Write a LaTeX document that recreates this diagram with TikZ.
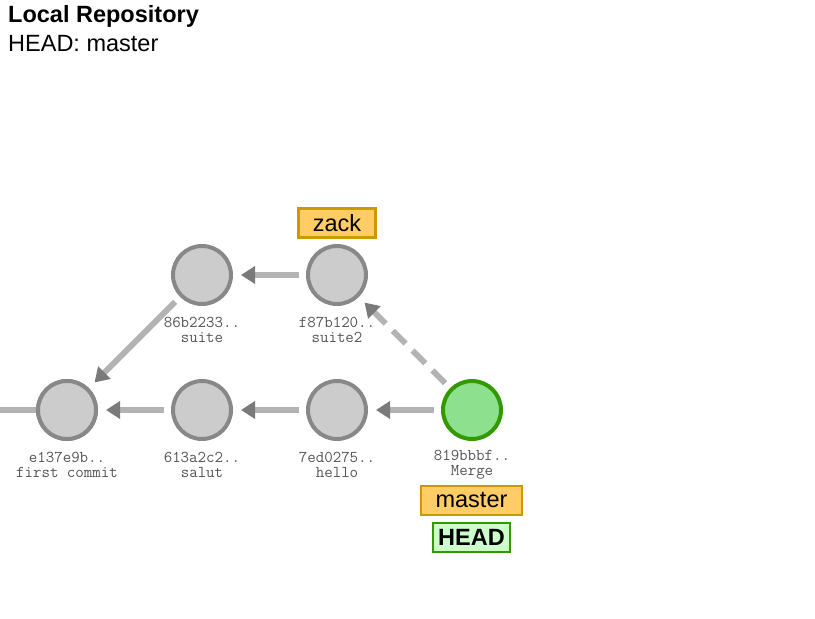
\documentclass[tikz,border=0pt]{standalone}
\usepackage{fontspec}
\setmainfont{Liberation Sans}
\usetikzlibrary{arrows.meta}
\definecolor{lnc}{HTML}{B3B3B3}
\definecolor{tipc}{HTML}{7A7A7A}
\definecolor{cfill}{HTML}{CCCCCC}
\definecolor{cdraw}{HTML}{888888}
\definecolor{mfill}{HTML}{8DE08D}
\definecolor{mdraw}{HTML}{339900}
\definecolor{bfill}{HTML}{FFCC66}
\definecolor{bdraw}{HTML}{CC9900}
\definecolor{hfill}{HTML}{CCFFCC}
\definecolor{lblc}{HTML}{555555}
\tikzset{
  commit/.style={circle,draw=cdraw,fill=cfill,line width=4pt,minimum size=58pt,inner sep=0pt},
  mergec/.style={commit,draw=mdraw,fill=mfill},
  edge/.style={draw=lnc,line width=6pt,shorten >=8pt,shorten <=7pt,
    -{Triangle[length=14pt,width=17pt,color=tipc]}},
  dedge/.style={edge,dash pattern=on 18pt off 10pt},
  clbl/.style={font=\fontsize{16.5}{15}\selectfont\ttfamily,text=lblc,align=center,inner sep=0pt},
  branch/.style={draw=bdraw,fill=bfill,line width=2.5pt,font=\fontsize{23.5}{24}\selectfont,inner sep=0pt,minimum height=29pt},
  headbox/.style={draw=mdraw,fill=hfill,line width=2.5pt,font=\fontsize{23.5}{24}\selectfont\bfseries,inner sep=0pt,minimum height=29pt}
}
\begin{document}
\begin{tikzpicture}[x=1pt,y=-1pt]
\useasboundingbox (0,0) rectangle (815,619);
\node[anchor=base west,inner sep=0pt,font=\fontsize{23.5}{24}\selectfont\bfseries] (title) at (8,22) {Local Repository};
\node[anchor=base west,inner sep=0pt,font=\fontsize{23.5}{24}\selectfont] (headlbl) at (8,51) {HEAD: master};

\node[commit] (e137) at (67,410) {};
\node[commit] (c613) at (202,410) {};
\node[commit] (c7ed) at (337,410) {};
\node[mergec] (c819) at (472,410) {};
\node[commit] (c86b) at (202,275) {};
\node[commit] (cf87) at (337,275) {};

\coordinate (leftend) at (0,410);
\draw[draw=lnc,line width=6pt] (leftend) -- (e137.west);

\draw[edge] (c613) -- (e137);
\draw[edge] (c7ed) -- (c613);
\draw[edge] (c819) -- (c7ed);
\draw[edge] (cf87) -- (c86b);
\draw[edge] (c86b) -- (e137);
\draw[dedge] (c819) -- (cf87);

\node[commit] at (e137) {};

\node[clbl] (l86b) at (202,330) {86b2233..\\suite};
\node[clbl] (lf87) at (337,330) {f87b120..\\suite2};
\node[clbl] (le13) at (67,465) {e137e9b..\\first commit};
\node[clbl] (l613) at (202,465) {613a2c2..\\salut};
\node[clbl] (l7ed) at (337,465) {7ed0275..\\hello};
\node[clbl] (l819) at (472,465) {819bbbf..\\Merge};

\node[branch,minimum width=77pt] (zack) at (337,223) {zack};
\node[branch,minimum width=101pt] (master) at (471.5,500.5) {master};
\node[headbox,minimum width=77pt] (head) at (471.5,537.5) {HEAD};
\end{tikzpicture}
\end{document}
